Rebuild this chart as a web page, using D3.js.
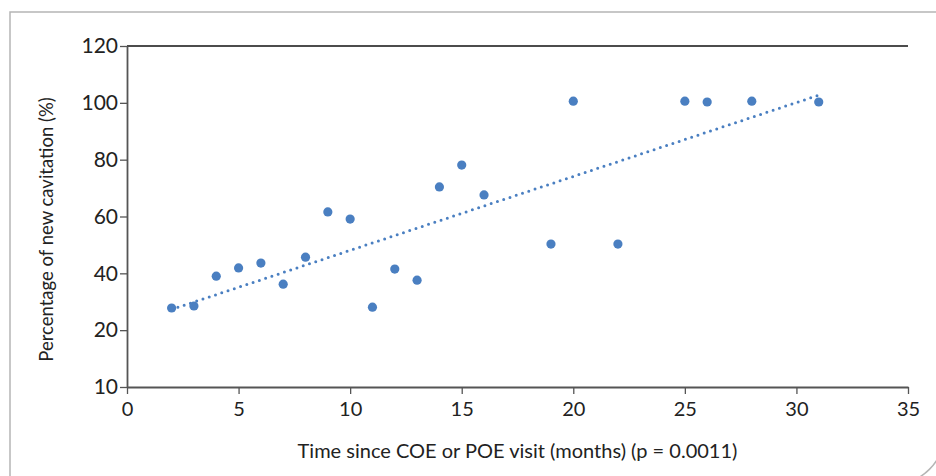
<!DOCTYPE html>
<html>
<head>
<meta charset="utf-8">
<script src="https://cdn.jsdelivr.net/npm/d3@7"></script>
<style>
  body { margin: 0; background: #fff; }
  svg { display: block; }
  .axis text { font-family: Lato, "Noto Sans", sans-serif; fill: #222; }
</style>
</head>
<body>
<script>
// months since visit and percentage of new cavitation
var months = [2, 3, 4, 5, 6, 7, 8, 9, 10, 11, 12, 13, 14, 15, 16, 19, 20, 22, 25, 26, 28, 31];
var cavitation = [27.8, 28.5, 39, 41.9, 43.6, 36.2, 45.7, 61.6, 59.1, 28.1, 41.5, 37.6,
                  70.4, 78.1, 67.6, 50.3, 100.6, 50.3, 100.6, 100.3, 100.6, 100.3];

// linear trend line end points
var trendX = [2, 31];
var trendY = [27.3, 102.7];

var xTicks = [0, 5, 10, 15, 20, 25, 30, 35];
var yTicks = [0, 20, 40, 60, 80, 100, 120];
var yTickLabels = ["10", "20", "40", "60", "80", "100", "120"];

var W = 936, H = 476;
var margin = {top: 46, right: 28, bottom: 89, left: 127},
    width = W - margin.left - margin.right,
    height = H - margin.top - margin.bottom;

var svgRoot = d3.select("body").append("svg")
    .attr("width", W)
    .attr("height", H);

// card frame with rounded bottom right corner
svgRoot.append("path")
    .attr("d", "M10,500 V12 H944 V434 A50,50 0 0 1 894,484 H10")
    .attr("fill", "none")
    .attr("stroke", "#b5b5b5")
    .attr("stroke-width", 1.5);

var svg = svgRoot.append("g")
    .attr("transform", "translate(" + margin.left + "," + margin.top + ")");

var xScale = d3.scaleLinear().domain([0, 35]).range([0, width]);
var yScale = d3.scaleLinear().domain([0, 120]).range([height, 0]);

// top border line
svg.append("line")
    .attr("x1", 0).attr("x2", width)
    .attr("y1", 0).attr("y2", 0)
    .attr("stroke", "#111")
    .attr("stroke-width", 1.6);

// x axis
var gx = svg.append("g")
    .attr("class", "axis")
    .attr("transform", "translate(0," + height + ")")
    .call(d3.axisBottom(xScale).tickValues(xTicks).tickSize(7).tickSizeOuter(0).tickPadding(8));
gx.select(".domain").attr("stroke", "#555").attr("stroke-width", 1.8);
gx.selectAll(".tick line").attr("stroke", "#555").attr("stroke-width", 1.3);
gx.selectAll("text").attr("font-size", "20px");

// y axis
var gy = svg.append("g")
    .attr("class", "axis")
    .call(d3.axisLeft(yScale).tickValues(yTicks).tickSize(7).tickSizeOuter(0).tickPadding(2)
        .tickFormat(function(d, i) { return yTickLabels[i]; }));
gy.select(".domain").attr("stroke", "#555").attr("stroke-width", 1.8);
gy.selectAll(".tick line").attr("stroke", "#555").attr("stroke-width", 1.3);
gy.selectAll("text").attr("font-size", "21px");

// dotted trend line
var lineGen = d3.line()
    .x(function(d) { return xScale(d[0]); })
    .y(function(d) { return yScale(d[1]); });

svg.append("path")
    .attr("d", lineGen(d3.zip(trendX, trendY)))
    .attr("fill", "none")
    .attr("stroke", "#4a7fc1")
    .attr("stroke-width", 3)
    .attr("stroke-linecap", "round")
    .attr("stroke-dasharray", "0 6.6");

// data points
svg.selectAll(".dot")
    .data(d3.zip(months, cavitation))
    .enter().append("circle")
    .attr("class", "dot")
    .attr("cx", function(d) { return xScale(d[0]); })
    .attr("cy", function(d) { return yScale(d[1]); })
    .attr("r", 4.6)
    .attr("fill", "#4a7fc1");

// axis titles
svg.append("text")
    .attr("x", width / 2)
    .attr("y", height + 71)
    .attr("text-anchor", "middle")
    .attr("font-family", "Lato, 'Noto Sans', sans-serif")
    .attr("font-size", "20px")
    .attr("fill", "#222")
    .text("Time since COE or POE visit (months) (p = 0.0011)");

svg.append("text")
    .attr("transform", "rotate(-90)")
    .attr("x", -(height / 2) - 13)
    .attr("y", -74)
    .attr("text-anchor", "middle")
    .attr("font-family", "Lato, 'Noto Sans', sans-serif")
    .attr("font-size", "18.5px")
    .attr("fill", "#222")
    .text("Percentage of new cavitation (%)");
</script>
</body>
</html>
